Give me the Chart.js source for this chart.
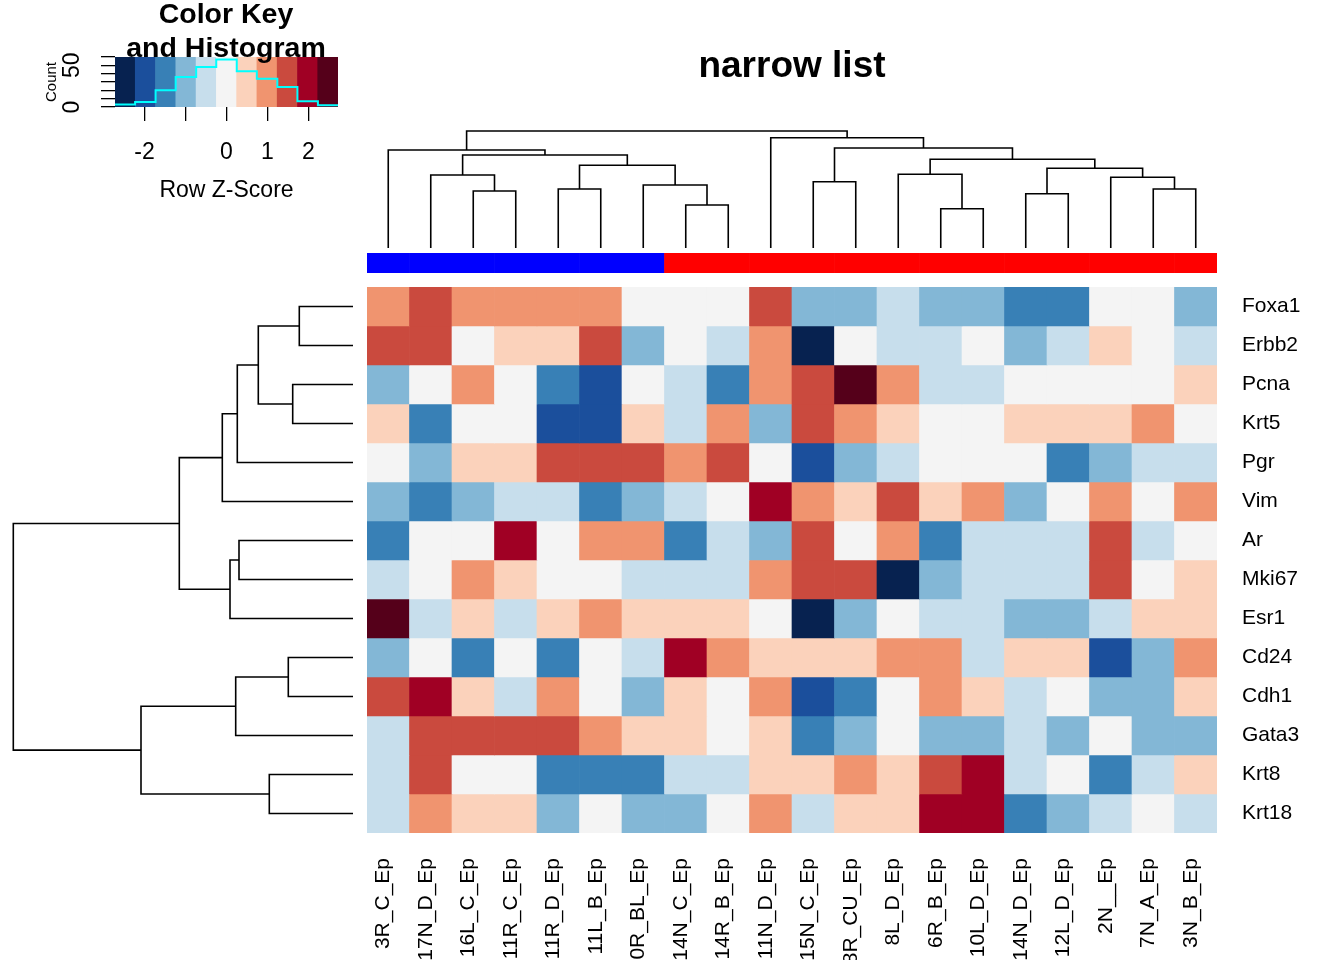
<!DOCTYPE html>
<html>
<head>
<meta charset="utf-8">
<title>narrow list</title>
<script src="https://cdn.jsdelivr.net/npm/chart.js@4.4.1/dist/chart.umd.min.js"></script>
<style>
  html, body { margin: 0; padding: 0; background: #fff; }
  body { width: 1344px; height: 960px; position: relative; overflow: hidden;
         font-family: "Liberation Sans", Arial, Helvetica, sans-serif; }
  canvas { position: absolute; }
  .ttl { position: absolute; color: #000; font-weight: bold; text-align: center; white-space: nowrap; }
</style>
</head>
<body>
<canvas id="keyBins" width="223" height="50" style="left:115px;top:57px"></canvas>
<canvas id="keyChart" width="360" height="210" style="left:0px;top:0px"></canvas>
<canvas id="colTree" width="850" height="128" style="left:367px;top:125px"></canvas>
<canvas id="colBar" width="850" height="20" style="left:367px;top:253px"></canvas>
<canvas id="rowTree" width="367" height="546" style="left:0px;top:287px"></canvas>
<canvas id="heatmap" width="1344" height="713" style="left:0px;top:247px"></canvas>
<div class="ttl" style="left:26px;top:-4px;width:400px;font-size:28.5px;line-height:34px">Color Key<br>and Histogram</div>
<div class="ttl" style="left:367px;top:46px;width:850px;font-size:37px;line-height:1">narrow list</div>

<script>
/* ---- data ---- */
var samples = ["3R_C_Ep", "17N_D_Ep", "16L_C_Ep", "11R_C_Ep", "11R_D_Ep", "11L_B_Ep", "10R_BL_Ep",
  "14N_C_Ep", "14R_B_Ep", "11N_D_Ep", "15N_C_Ep", "18R_CU_Ep", "8L_D_Ep", "6R_B_Ep", "10L_D_Ep",
  "14N_D_Ep", "12L_D_Ep", "2N__Ep", "7N_A_Ep", "3N_B_Ep"];
var genes = ["Foxa1", "Erbb2", "Pcna", "Krt5", "Pgr", "Vim", "Ar", "Mki67", "Esr1",
  "Cd24", "Cdh1", "Gata3", "Krt8", "Krt18"];

// colour level of each cell, -5 (dark blue) .. 5 (dark red), one row per gene
var zFoxa1 = [2, 3, 2, 2, 2, 2, 0, 0, 0, 3, -2, -2, -1, -2, -2, -3, -3, 0, 0, -2];
var zErbb2 = [3, 3, 0, 1, 1, 3, -2, 0, -1, 2, -5, 0, -1, -1, 0, -2, -1, 1, 0, -1];
var zPcna  = [-2, 0, 2, 0, -3, -4, 0, -1, -3, 2, 3, 5, 2, -1, -1, 0, 0, 0, 0, 1];
var zKrt5  = [1, -3, 0, 0, -4, -4, 1, -1, 2, -2, 3, 2, 1, 0, 0, 1, 1, 1, 2, 0];
var zPgr   = [0, -2, 1, 1, 3, 3, 3, 2, 3, 0, -4, -2, -1, 0, 0, 0, -3, -2, -1, -1];
var zVim   = [-2, -3, -2, -1, -1, -3, -2, -1, 0, 4, 2, 1, 3, 1, 2, -2, 0, 2, 0, 2];
var zAr    = [-3, 0, 0, 4, 0, 2, 2, -3, -1, -2, 3, 0, 2, -3, -1, -1, -1, 3, -1, 0];
var zMki67 = [-1, 0, 2, 1, 0, 0, -1, -1, -1, 2, 3, 3, -5, -2, -1, -1, -1, 3, 0, 1];
var zEsr1  = [5, -1, 1, -1, 1, 2, 1, 1, 1, 0, -5, -2, 0, -1, -1, -2, -2, -1, 1, 1];
var zCd24  = [-2, 0, -3, 0, -3, 0, -1, 4, 2, 1, 1, 1, 2, 2, -1, 1, 1, -4, -2, 2];
var zCdh1  = [3, 4, 1, -1, 2, 0, -2, 1, 0, 2, -4, -3, 0, 2, 1, -1, 0, -2, -2, 1];
var zGata3 = [-1, 3, 3, 3, 3, 2, 1, 1, 0, 1, -3, -2, 0, -2, -2, -1, -2, 0, -2, -2];
var zKrt8  = [-1, 3, 0, 0, -3, -3, -3, -1, -1, 1, 1, 2, 1, 3, 4, -1, 0, -3, -1, 1];
var zKrt18 = [-1, 2, 1, 1, -2, 0, -2, -2, 0, 2, -1, 1, 1, 4, 4, -3, -2, -1, 0, -1];
var zRows = [zFoxa1, zErbb2, zPcna, zKrt5, zPgr, zVim, zAr, zMki67, zEsr1,
  zCd24, zCdh1, zGata3, zKrt8, zKrt18];

var zColors = ["#072250", "#1B4F9C", "#3880B6", "#83B7D6", "#C7DEEC", "#F4F4F4",
  "#FBD2BB", "#F0946F", "#CA4A3E", "#A00024", "#55001A"];

// side colour bar above the columns
var sampleGroup = [0, 0, 0, 0, 0, 0, 0, 1, 1, 1, 1, 1, 1, 1, 1, 1, 1, 1, 1, 1];
var groupColors = ["#0000FF", "#FF0000"];

// colour key / histogram
var keyBreaks = [-2.72, -2.23, -1.73, -1.24, -0.74, -0.25, 0.25, 0.74, 1.24, 1.73, 2.23, 2.72];
var histCounts = [3, 6, 20, 36, 48, 57, 43, 34, 24, 7, 2];
var keyTicks = [-2, -1, 0, 1, 2];
var countTicks = [0, 10, 20, 30, 40, 50, 60];
var countMax = 60;

// column dendrogram, hclust style: negative = leaf, positive = earlier merge
var colMerge = [[-3, -4], [-8, -9], [-14, -15], [-16, -17], [-5, -6], [-19, -20], [-7, 2],
  [-11, -12], [-2, 1], [-13, 3], [-18, 6], [5, 7], [4, 11], [9, 12], [10, 13], [-1, 14],
  [8, 15], [-10, 17], [16, 18]];
var colHeight = [57, 43, 39.3, 54.3, 59, 59, 63, 66.3, 73, 73.7, 70.7, 82.7, 79.7, 93,
  88.7, 98, 100, 110.3, 117];

// row dendrogram
var rowMerge = [[-1, -2], [-3, -4], [-10, -11], [-13, -14], [1, 2], [-7, -8], [5, -5],
  [3, -12], [6, -9], [7, -6], [10, 9], [8, 4], [11, 12]];
var rowHeight = [53.7, 60.3, 64.7, 83.7, 94.7, 114, 115.7, 117.3, 123, 130.7, 173.7, 212, 339.7];

var FONT = "'Liberation Sans', Arial, Helvetica, sans-serif";

/* ---- helpers ---- */
function dendroPoints(merge, height, sideways) {
  var pos = [];
  var pts = [];
  function node(c) {
    if (c < 0) return { p: -c - 0.5, h: 0 };
    return { p: pos[c - 1], h: height[c - 1] };
  }
  merge.forEach(function(m, i) {
    var a = node(m[0]), b = node(m[1]), h = height[i];
    pos[i] = (a.p + b.p) / 2;
    [[a.p, a.h], [a.p, h], [b.p, h], [b.p, b.h]].forEach(function(s) {
      pts.push(sideways ? { x: s[1], y: s[0] } : { x: s[0], y: s[1] });
    });
    pts.push({ x: null, y: null });
  });
  return pts;
}

function baseOptions() {
  return {
    animation: false,
    responsive: false,
    events: [],
    plugins: { legend: { display: false }, tooltip: { enabled: false } }
  };
}

/* ---- colour key: coloured bins ---- */
var binOpts = baseOptions();
binOpts.layout = { padding: 0 };
binOpts.scales = {
  x: { display: false },
  y: { display: false, min: 0, max: countMax }
};
new Chart(document.getElementById("keyBins"), {
  type: "bar",
  data: {
    labels: zColors.map(function(c, i) { return String(i - 5); }),
    datasets: [{
      data: zColors.map(function() { return countMax; }),
      backgroundColor: zColors, borderWidth: 0, barPercentage: 1, categoryPercentage: 1
    }]
  },
  options: binOpts
});

/* ---- colour key: histogram line and axes ---- */
var stepPts = keyBreaks.map(function(b, i) {
  return { x: b, y: histCounts[Math.min(i, histCounts.length - 1)] };
});

var keyOpts = baseOptions();
keyOpts.layout = { padding: { left: 0, top: 57, right: 22, bottom: 0 } };
keyOpts.scales = {
  x: {
    type: "linear", position: "bottom", offset: false,
    min: keyBreaks[0], max: keyBreaks[keyBreaks.length - 1],
    afterBuildTicks: function(s) { s.ticks = keyTicks.map(function(v) { return { value: v }; }); },
    ticks: {
      autoSkip: false, maxRotation: 0, padding: 18, color: "#000",
      font: { family: FONT, size: 23 },
      callback: function(v) { return v === -1 ? "" : String(v); }
    },
    grid: { drawOnChartArea: false, drawTicks: true, tickLength: 14, color: "#000", lineWidth: 1.3 },
    border: { display: false },
    title: { display: true, text: "Row Z-Score", color: "#000", font: { family: FONT, size: 23 },
      padding: { top: 0, bottom: 6 } },
    afterFit: function(s) { s.height = 103; }
  },
  y: {
    min: 0, max: countMax,
    afterBuildTicks: function(s) { s.ticks = countTicks.map(function(v) { return { value: v }; }); },
    ticks: {
      autoSkip: false, minRotation: 90, maxRotation: 90, crossAlign: "center", padding: 16,
      color: "#000", font: { family: FONT, size: 23 },
      callback: function(v) { return (v === 0 || v === 50) ? String(v) : ""; }
    },
    grid: { drawOnChartArea: false, drawTicks: true, tickLength: 14, color: "#000", lineWidth: 1.3 },
    border: { display: false },
    title: { display: true, text: "Count", color: "#000", font: { family: FONT, size: 15 },
      padding: { top: 43, bottom: 0 } },
    afterFit: function(s) { s.width = 115; }
  }
};

new Chart(document.getElementById("keyChart"), {
  type: "scatter",
  data: {
    datasets: [{
      data: stepPts, showLine: true, stepped: "before", fill: false,
      borderColor: "#00FFFF", borderWidth: 2, pointRadius: 0
    }]
  },
  options: keyOpts
});

/* ---- column dendrogram ---- */
var colTreeOpts = baseOptions();
colTreeOpts.layout = { padding: { left: 0, right: 0, top: 6, bottom: 5 } };
colTreeOpts.scales = {
  x: { type: "linear", display: false, min: 0, max: samples.length },
  y: { type: "linear", display: false, min: 0, max: colHeight[colHeight.length - 1] }
};
new Chart(document.getElementById("colTree"), {
  type: "scatter",
  data: { datasets: [{
    data: dendroPoints(colMerge, colHeight, false), showLine: true, clip: false,
    borderColor: "#000", borderWidth: 1.6, pointRadius: 0
  }] },
  options: colTreeOpts
});

/* ---- column side colours ---- */
var barOpts = baseOptions();
barOpts.layout = { padding: 0 };
barOpts.scales = {
  x: { display: false },
  y: { display: false, min: 0, max: 1 }
};
new Chart(document.getElementById("colBar"), {
  type: "bar",
  data: {
    labels: samples,
    datasets: [{
      data: samples.map(function() { return 1; }),
      backgroundColor: sampleGroup.map(function(g) { return groupColors[g]; }),
      borderWidth: 0, barPercentage: 1, categoryPercentage: 1
    }]
  },
  options: barOpts
});

/* ---- row dendrogram ---- */
var rowTreeOpts = baseOptions();
rowTreeOpts.layout = { padding: { left: 13.3, right: 14, top: 0, bottom: 0 } };
rowTreeOpts.scales = {
  x: { type: "linear", display: false, reverse: true, min: 0, max: rowHeight[rowHeight.length - 1] },
  y: { type: "linear", display: false, reverse: true, min: 0, max: genes.length }
};
new Chart(document.getElementById("rowTree"), {
  type: "scatter",
  data: { datasets: [{
    data: dendroPoints(rowMerge, rowHeight, true), showLine: true, clip: false,
    borderColor: "#000", borderWidth: 1.6, pointRadius: 0
  }] },
  options: rowTreeOpts
});

/* ---- heatmap ---- */
var heatSets = genes.map(function(g, r) {
  return {
    label: g,
    data: samples.map(function() { return 1; }),
    backgroundColor: zRows[r].map(function(z) { return zColors[z + 5]; }),
    borderWidth: 0, barPercentage: 1, categoryPercentage: 1
  };
});

var heatOpts = baseOptions();
heatOpts.layout = { padding: { left: 367, top: 40, right: 0, bottom: 0 } };
heatOpts.scales = {
  x: {
    stacked: true,
    grid: { display: false, drawTicks: false },
    border: { display: false },
    ticks: { autoSkip: false, minRotation: 90, maxRotation: 90, padding: 25, labelOffset: -5,
      color: "#000", font: { family: FONT, size: 21 } },
    afterFit: function(s) { s.height = 127; }
  },
  y: { stacked: true, display: false, reverse: true, min: 0, max: genes.length },
  geneAxis: {
    type: "category", labels: genes, position: "right", offset: true,
    grid: { display: false, drawTicks: false },
    border: { display: false },
    ticks: { autoSkip: false, padding: 25, crossAlign: "near", color: "#000",
      font: { family: FONT, size: 21 } },
    afterFit: function(s) { s.width = 127; }
  }
};

new Chart(document.getElementById("heatmap"), {
  type: "bar",
  data: { labels: samples, datasets: heatSets },
  options: heatOpts
});
</script>
</body>
</html>
